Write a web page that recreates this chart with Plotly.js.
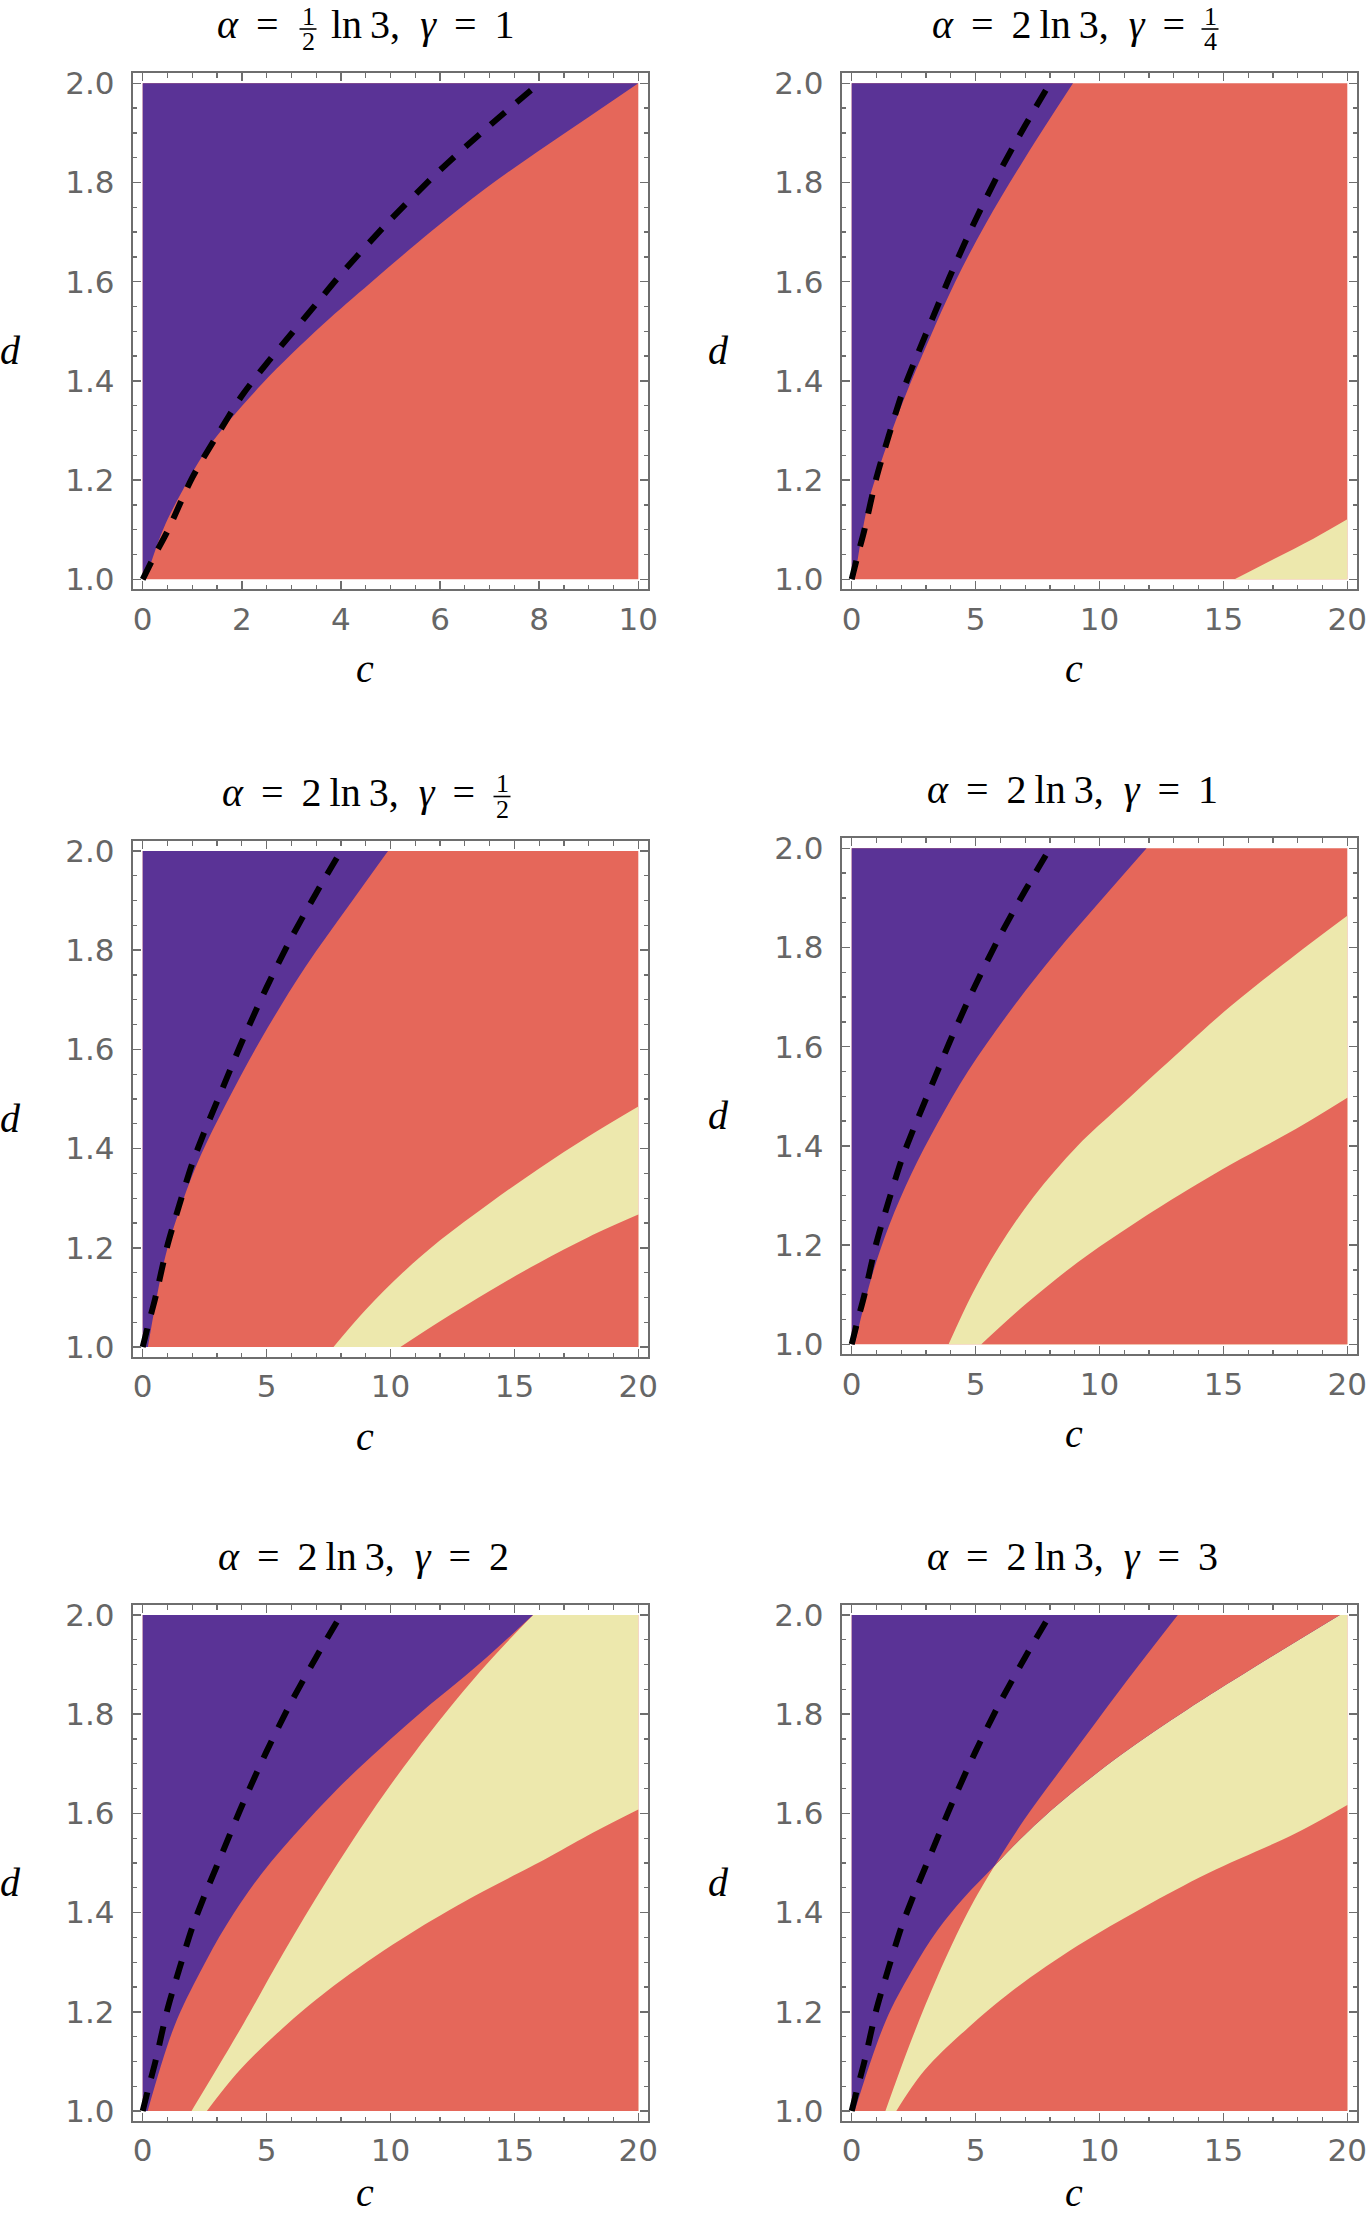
<!DOCTYPE html>
<html>
<head>
<meta charset="utf-8">
<script src="https://cdn.plot.ly/plotly-3.0.1.min.js"></script>
<style>
html,body{margin:0;padding:0;background:#ffffff;}
#chart{width:1368px;height:2217px;}
</style>
</head>
<body>
<div id="chart"></div>
<script>
// ---------------- DATA ----------------
const cMax = [10, 20, 20, 20, 20, 20];      // c-axis upper limit per panel
const dMin = 1.0, dMax = 2.0;                // d-axis limits
const xTickStep = [2, 5, 5, 5, 5, 5];
const xMinorStep = [0.5, 1, 1, 1, 1, 1];

// dashed reference curve (same in every panel)
const dashC = [0, 0.25, 0.5, 1.0, 1.5, 2.0, 2.5, 3.0, 3.5, 4.0, 5.0, 6.0, 7.0, 8.0];
const dashD = [1.0, 1.05, 1.097, 1.205, 1.29, 1.37, 1.435, 1.495, 1.555, 1.615, 1.725, 1.825, 1.915, 2.0];

// purple region boundary (purple lies above / left), per panel
const p1BoundC = [0.06, 0.41, 0.81, 1.34, 2.40, 3.63, 4.60, 5.83, 6.89, 7.95, 9.0, 10];
const p1BoundD = [1.0, 1.10, 1.18, 1.268, 1.393, 1.513, 1.598, 1.702, 1.786, 1.861, 1.932, 2.0];
const p2BoundC = [0.12, 0.65, 1.27, 2.06, 3.12, 4.18, 5.41, 7.0, 8.93];
const p2BoundD = [1.0, 1.15, 1.249, 1.357, 1.483, 1.60, 1.717, 1.85, 2.0];
const p3BoundC = [0.21, 0.92, 1.62, 2.33, 3.38, 4.79, 6.55, 8.32, 9.9];
const p3BoundD = [1.0, 1.184, 1.295, 1.385, 1.492, 1.622, 1.765, 1.89, 2.0];
const p4BoundC = [0.12, 0.83, 1.53, 2.41, 3.47, 4.70, 6.47, 8.23, 9.99, 11.9];
const p4BoundD = [1.0, 1.14, 1.242, 1.344, 1.446, 1.551, 1.677, 1.789, 1.891, 2.0];
const p5BoundC = [0.2, 1.27, 2.33, 3.38, 4.79, 6.55, 8.32, 10.96, 13.6, 15.75];
const p5BoundD = [1.0, 1.17, 1.281, 1.375, 1.478, 1.58, 1.672, 1.792, 1.902, 2.0];
// panel 6: gentle curve (purple lies above it; becomes yellow's top edge past the crossing)
const p6BoundC = [0.12, 1.36, 2.41, 3.47, 4.53, 5.76, 6.64, 8.23, 10.87, 13.5, 16.16, 19.7];
const p6BoundD = [1.0, 1.18, 1.281, 1.365, 1.43, 1.494, 1.54, 1.614, 1.718, 1.808, 1.892, 2.0];

// yellow band: upper/left edge (yellow lies below/right of it)
const p2YellowUpC = [15.45, 17.04, 18.63, 20];
const p2YellowUpD = [1.0, 1.041, 1.082, 1.121];
const p3YellowUpC = [7.7, 9.0, 10.5, 12.0, 14.0, 16.0, 18.0, 20];
const p3YellowUpD = [1.0, 1.075, 1.15, 1.215, 1.29, 1.36, 1.425, 1.485];
const p4YellowUpC = [3.91, 4.88, 5.94, 7.35, 9.11, 10.87, 13.34, 15.3, 17.9, 20];
const p4YellowUpD = [1.0, 1.103, 1.196, 1.298, 1.40, 1.482, 1.595, 1.682, 1.785, 1.864];
const p5YellowUpC = [1.97, 3.03, 4.09, 5.67, 7.44, 9.2, 10.96, 13.6, 15.75];
const p5YellowUpD = [1.0, 1.088, 1.178, 1.318, 1.465, 1.60, 1.722, 1.885, 2.0];
// panel 6: steep curve (yellow lies right of it; becomes purple's edge past the crossing)
const p6YellowUpC = [1.36, 2.41, 3.47, 4.7, 5.76, 7.0, 8.76, 10.87, 13.16];
const p6YellowUpD = [1.0, 1.143, 1.272, 1.402, 1.494, 1.59, 1.71, 1.852, 2.0];
const p6Cross = [5.76, 1.494];   // where the two panel-6 curves cross

// yellow band: lower edge (red lies below/right of it)
const p3YellowLowC = [10.4, 12.0, 14.0, 16.0, 18.0, 20];
const p3YellowLowD = [1.0, 1.052, 1.113, 1.17, 1.222, 1.267];
const p4YellowLowC = [5.23, 7.0, 9.11, 10.87, 12.63, 15.28, 17.92, 20];
const p4YellowLowD = [1.0, 1.08, 1.165, 1.226, 1.283, 1.362, 1.434, 1.497];
const p5YellowLowC = [2.59, 3.91, 5.67, 7.44, 10.08, 12.72, 16.4, 18.2, 20];
const p5YellowLowD = [1.0, 1.082, 1.168, 1.242, 1.335, 1.415, 1.512, 1.562, 1.608];
const p6YellowLowC = [1.8, 2.94, 4.7, 6.47, 9.11, 11.75, 14.4, 17.92, 20];
const p6YellowLowD = [1.0, 1.082, 1.168, 1.242, 1.333, 1.41, 1.48, 1.56, 1.617];

// ---------------- STYLE / LAYOUT ----------------
const W = 1368, H = 2217;
const colPurple = '#5a3396', colRed = '#e5675a', colYellow = '#ede8ad';
const axisGray = '#6e6e6e', labelGray = '#666666';
const dataW = 495.6, dataH = 496, gap = 10;

const bounds = [[p1BoundC,p1BoundD],[p2BoundC,p2BoundD],[p3BoundC,p3BoundD],
                [p4BoundC,p4BoundD],[p5BoundC,p5BoundD],[p6BoundC,p6BoundD]];
const yUp = [null, [p2YellowUpC,p2YellowUpD], [p3YellowUpC,p3YellowUpD],
             [p4YellowUpC,p4YellowUpD], [p5YellowUpC,p5YellowUpD], [p6YellowUpC,p6YellowUpD]];
const yLow = [null, null, [p3YellowLowC,p3YellowLowD], [p4YellowLowC,p4YellowLowD],
              [p5YellowLowC,p5YellowLowD], [p6YellowLowC,p6YellowLowD]];
const crossing = [null, null, null, null, null, p6Cross];

// pixel placement of each panel's data area
const panelPos = [
  {left:142.7, top:83.3}, {left:851.7, top:83.3},
  {left:142.7, top:851},  {left:851.7, top:848.3},
  {left:142.7, top:1615}, {left:851.7, top:1615}
];

const traces = [];
const layout = {
  width: W, height: H,
  margin: {l:0, r:0, t:0, b:0},
  paper_bgcolor: '#ffffff', plot_bgcolor: '#ffffff',
  showlegend: false,
  annotations: [], shapes: []
};

const px = x => x / W;
const py = y => 1 - y / H;

for (let i = 0; i < 6; i++) {
  const xn = i === 0 ? 'x' : 'x' + (i + 1);
  const yn = i === 0 ? 'y' : 'y' + (i + 1);
  const p = panelPos[i];
  const cm = cMax[i];
  const padX = gap / dataW * cm;
  const padY = gap / dataH * (dMax - dMin);

  const common = {
    showline: true, linecolor: axisGray, linewidth: 2, mirror: 'allticks',
    ticks: 'inside', ticklen: 8, tickwidth: 1.5, tickcolor: axisGray,
    showgrid: false, zeroline: false, fixedrange: true,
    tickfont: {family: 'DejaVu Sans', size: 31, color: labelGray}
  };
  layout[i === 0 ? 'xaxis' : 'xaxis' + (i + 1)] = Object.assign({}, common, {
    domain: [px(p.left - gap), px(p.left + dataW + gap)],
    range: [-padX, cm + padX], anchor: yn,
    tick0: 0, dtick: xTickStep[i], ticklabelstandoff: 1,
    minor: {dtick: xMinorStep[i], tick0: 0, ticks: 'inside', ticklen: 4.5, tickwidth: 1.3, tickcolor: axisGray, showgrid: false}
  });
  layout[i === 0 ? 'yaxis' : 'yaxis' + (i + 1)] = Object.assign({}, common, {
    domain: [py(p.top + dataH + gap), py(p.top - gap)],
    range: [dMin - padY, dMax + padY], anchor: xn,
    tick0: 1.0, dtick: 0.2, tickformat: '.1f', ticklabelstandoff: 10,
    minor: {dtick: 0.05, tick0: 1.0, ticks: 'inside', ticklen: 4.5, tickwidth: 1.3, tickcolor: axisGray, showgrid: false}
  });

  const base = {type: 'scatter', mode: 'lines', xaxis: xn, yaxis: yn, hoverinfo: 'skip', showlegend: false};
  const spl = color => ({width: 0, color: color, shape: 'spline', smoothing: 1});

  // red background region
  traces.push(Object.assign({}, base, {
    x: [0, cm, cm, 0], y: [dMin, dMin, dMax, dMax],
    fill: 'toself', fillcolor: colRed, line: {width: 0, color: colRed}
  }));

  // region lying below/right of a smooth curve, closed along the right edge
  function belowRegion(cs, ds, color) {
    traces.push(Object.assign({}, base, {
      x: [cm, cm], y: [dMin, ds[ds.length - 1]], line: {width: 0, color: color}
    }));
    traces.push(Object.assign({}, base, {
      x: cs, y: ds, fill: 'tonexty', fillcolor: color, line: spl(color)
    }));
  }
  if (yUp[i]) belowRegion(yUp[i][0], yUp[i][1], colYellow);
  if (yLow[i]) belowRegion(yLow[i][0], yLow[i][1], colRed);

  // purple region: above/left of its boundary, closed along the left edge
  traces.push(Object.assign({}, base, {
    x: [0, 0], y: [dMin, dMax], line: {width: 0, color: colPurple}
  }));
  traces.push(Object.assign({}, base, {
    x: bounds[i][0], y: bounds[i][1], fill: 'tonexty', fillcolor: colPurple, line: spl(colPurple)
  }));

  // crossing curves: red wedge between them above the crossing point
  if (crossing[i]) {
    const gi = bounds[i][0].indexOf(crossing[i][0]);
    const si = yUp[i][0].indexOf(crossing[i][0]);
    traces.push(Object.assign({}, base, {
      x: bounds[i][0].slice(gi), y: bounds[i][1].slice(gi), line: spl(colRed)
    }));
    traces.push(Object.assign({}, base, {
      x: yUp[i][0].slice(si), y: yUp[i][1].slice(si), fill: 'tonexty', fillcolor: colRed, line: spl(colRed)
    }));
  }

  // dashed curve
  traces.push(Object.assign({}, base, {
    x: dashC, y: dashD,
    line: {color: '#000000', width: 6, dash: '19px,15px', shape: 'spline', smoothing: 0.8}
  }));

  // axis labels c and d
  const colOff = (i % 2) * 709;
  if (i < 4) {
    layout.annotations.push({
      xref: 'paper', yref: 'paper', x: px(365 + colOff), y: py(p.top + dataH + 89),
      xanchor: 'center', yanchor: 'middle', showarrow: false, text: '<i>c</i>',
      font: {family: 'Liberation Serif', size: 40, color: '#000'}
    });
  } else {
    layout.annotations.push({
      xref: 'paper', yref: 'paper', x: px(365 + colOff), y: 0,
      xanchor: 'center', yanchor: 'bottom', showarrow: false, text: '<i>c</i>',
      font: {family: 'Liberation Serif', size: 40, color: '#000'}
    });
  }
  layout.annotations.push({
    xref: 'paper', yref: 'paper', x: px(10 + colOff), y: py(p.top + 267),
    xanchor: 'center', yanchor: 'middle', showarrow: false, text: '<i>d</i>',
    font: {family: 'Liberation Serif', size: 40, color: '#000'}
  });
}

// ---------------- TITLES ----------------
const NB = '\u00a0', TH = '\u2009';
const tFont = {family: 'Liberation Serif', size: 40, color: '#000'};
const fFont = {family: 'Liberation Serif', size: 26, color: '#000'};
const eqL = NB + TH + '=';
const eqR = NB + TH;
const twoLn3 = '2' + TH + 'ln' + TH + '3,' + NB + NB;
function ann(x, y, text, anchor, font) {
  layout.annotations.push({xref: 'paper', yref: 'paper', x: px(x), y: py(y), xanchor: anchor,
    yanchor: 'middle', showarrow: false, text: text, font: font || tFont});
}
function frac(cx, cy, num, den) {
  ann(cx, cy - 12.5, num, 'center', fFont);
  ann(cx, cy + 13, den, 'center', fFont);
  layout.shapes.push({type: 'line', xref: 'paper', yref: 'paper',
    x0: px(cx - 8.5), x1: px(cx + 8.5), y0: py(cy + 0.5), y1: py(cy + 0.5),
    line: {color: '#000', width: 1.6}});
}
// panel 1: alpha = 1/2 ln 3, gamma = 1
ann(281, 24.3, '<i>α</i>' + eqL, 'right');
frac(308, 28.5, '1', '2');
ann(329, 24.3, 'ln' + TH + '3,' + NB + NB + '<i>γ</i>' + eqL + eqR + '1', 'left');
// panel 2: alpha = 2 ln 3, gamma = 1/4
ann(1187, 24.3, '<i>α</i>' + eqL + eqR + twoLn3 + '<i>γ</i>' + eqL, 'right');
frac(1210, 28.5, '1', '4');
// panel 3: alpha = 2 ln 3, gamma = 1/2
ann(477, 792, '<i>α</i>' + eqL + eqR + twoLn3 + '<i>γ</i>' + eqL, 'right');
frac(502, 796, '1', '2');
// panels 4-6
ann(1072.5, 789, '<i>α</i>' + eqL + eqR + twoLn3 + '<i>γ</i>' + eqL + eqR + '1', 'center');
ann(363.5, 1556, '<i>α</i>' + eqL + eqR + twoLn3 + '<i>γ</i>' + eqL + eqR + '2', 'center');
ann(1072.5, 1556, '<i>α</i>' + eqL + eqR + twoLn3 + '<i>γ</i>' + eqL + eqR + '3', 'center');

Plotly.newPlot('chart', traces, layout, {staticPlot: true, displayModeBar: false});
</script>
</body>
</html>
